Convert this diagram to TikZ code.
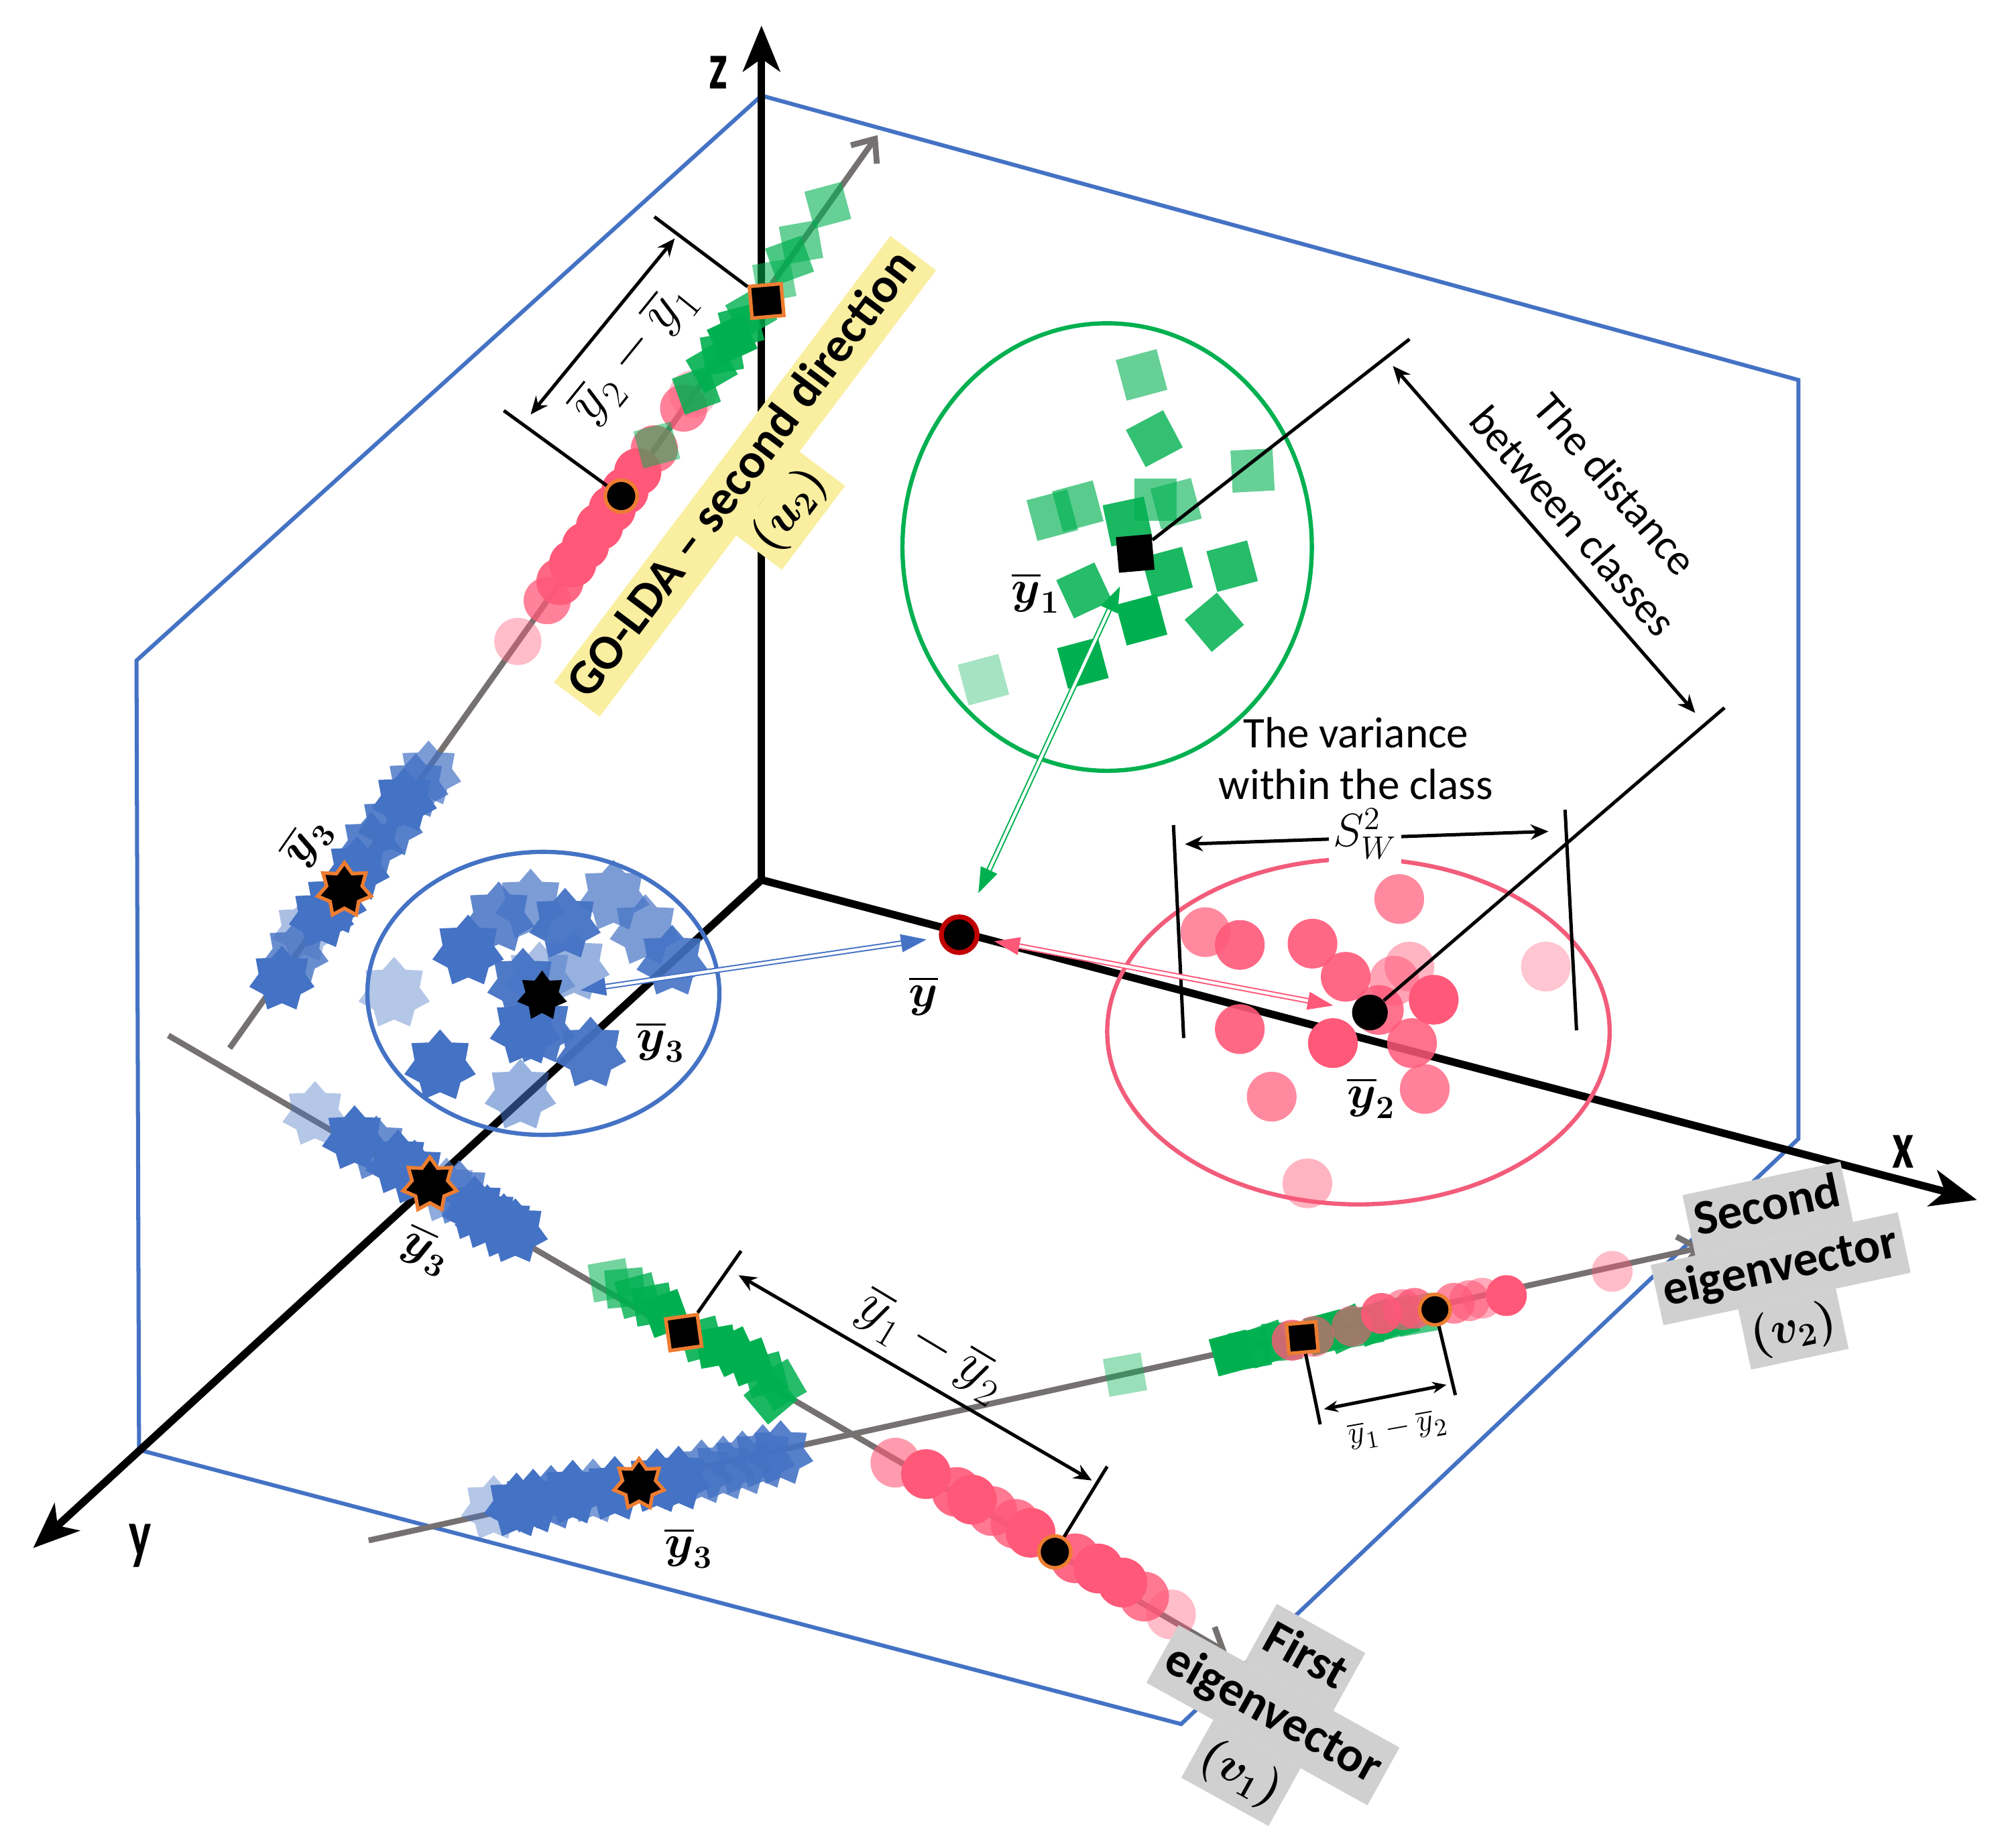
\documentclass[tikz,border=0pt]{standalone}
\usepackage{fontspec}
\setmainfont{Carlito}
\usepackage{amsmath}
\usetikzlibrary{arrows.meta,shapes.geometric}

\definecolor{planeblue}{RGB}{68,114,196}
\definecolor{axgray}{RGB}{118,113,113}
\definecolor{sqgreen}{RGB}{0,176,80}
\definecolor{ptred}{RGB}{255,88,120}
\definecolor{ringred}{RGB}{242,92,122}
\definecolor{meanorange}{RGB}{237,125,49}
\definecolor{hlyellow}{RGB}{250,238,160}
\definecolor{hlgray}{RGB}{208,208,208}
\definecolor{ybarred}{RGB}{192,0,0}

\newcommand{\ym}[1]{{\boldmath$\overline{y}_{#1}$}}
\newcommand{\yb}{{\boldmath$\overline{y}$}}
\newcommand{\hl}[2]{{\setlength{\fboxsep}{0pt}\colorbox{#1}{\strut\hspace{3pt}#2\hspace{3pt}}}}

\begin{document}
\begin{tikzpicture}[x=0.02cm,y=-0.02cm,
  plane/.style={draw=planeblue,line width=1.8pt},
  axis/.style={line width=3.4pt,-{Stealth[length=0.72cm,width=0.58cm,inset=0.2cm]}},
  dirline/.style={draw=axgray,line width=2.6pt},
  gsq/.style={rectangle,fill=sqgreen,minimum size=0.66cm,inner sep=0pt},
  lsq/.style={gsq,minimum size=0.6cm},
  rdot/.style={circle,fill=ptred,minimum size=0.78cm,inner sep=0pt},
  bstar/.style={star,star points=7,star point ratio=1.4,fill=planeblue,
                minimum size=1.15cm,inner sep=0pt},
  meanmk/.style={fill=black,draw=meanorange,line width=1.6pt,inner sep=0pt},
  tick/.style={draw=black,line width=1.5pt},
  dim/.style={draw=black,line width=1.5pt,
              {Stealth[length=0.28cm,width=0.24cm]}-{Stealth[length=0.28cm,width=0.24cm]}},
  dbl/.style={double=white,line width=0.6pt,double distance=1.3pt,
              {Triangle[length=0.4cm,width=0.28cm]}-{Triangle[length=0.4cm,width=0.28cm]}},
  txt/.style={font=\fontsize{19.5}{23}\selectfont,align=center},
  tag/.style={font=\fontsize{22}{27.5}\selectfont\bfseries\boldmath,align=center,inner sep=0pt},
  mlab/.style={font=\fontsize{22}{26}\selectfont,inner sep=1pt},
  axlab/.style={font=\fontsize{30}{30}\selectfont\bfseries}]
\useasboundingbox (0,0) rectangle (1568,1449);

% plane
\coordinate (pA) at (597,75);
\coordinate (pB) at (107,518);
\coordinate (pC) at (109,1137);
\coordinate (pD) at (926,1352);
\coordinate (pE) at (1410,893);
\coordinate (pF) at (1410,298);
\draw[plane] (pA) -- (pB) -- (pC) -- (pD) -- (pE) -- (pF) -- cycle;

% axes
\coordinate (O) at (597,690);
\coordinate (ztip) at (597,20);
\coordinate (xtip) at (1550,941);
\coordinate (ytip) at (26,1214);
\draw[axis] (O) -- (ztip);
\draw[axis] (O) -- (xtip);
\draw[axis] (O) -- (ytip);
\node[axlab] (lz) at (563,57) {\scalebox{0.7}[1]{z}};
\node[axlab] (lx) at (1492,903) {\scalebox{0.7}[1]{x}};
\node[axlab] (ly) at (110,1212) {\scalebox{0.7}[1]{y}};

% projection directions
\coordinate (u2s) at (180,822);
\coordinate (u2e) at (688,106);
\coordinate (v1s) at (132,812);
\coordinate (v1e) at (962,1296);
\coordinate (v2s) at (289,1208);
\coordinate (v2e) at (1335,978);
\draw[dirline,-{Straight Barb[length=0.3cm,width=0.5cm]}] (u2s) -- (u2e);
\draw[dirline,-{Straight Barb[length=0.3cm,width=0.5cm]}] (v1s) -- (v1e);
\draw[dirline,-{Straight Barb[length=0.3cm,width=0.5cm]}] (v2s) -- (v2e);

% class outlines
\draw[draw=sqgreen,line width=1.9pt] (868,429) ellipse [x radius=3.21cm,y radius=3.51cm];
\draw[draw=planeblue,line width=1.9pt] (426,779) ellipse [x radius=2.76cm,y radius=2.22cm];
\draw[draw=ringred,line width=1.9pt] (1065,809) ellipse [x radius=3.94cm,y radius=2.71cm];

% class 1 (green)
\foreach \cx/\cy/\op/\rt [count=\i] in {895/294/0.6/15,905/344/0.8/28,982/369/0.6/3,
    825/404/0.65/15,845/397/0.65/15,906/392/0.65/0,922/395/0.6/15,884/409/0.9/12,
    915/449/0.9/15,966/444/0.85/15,850/463/0.85/25,895/486/1/15,952/488/0.85/40,
    849/520/1/15,771/533/0.35/15}
  \node[gsq,fill opacity=\op,rotate=\rt] (gc\i) at (\cx,\cy) {};
% class 2 (red)
\foreach \cx/\cy/\op [count=\i] in {1097/705/0.7,945/731/0.7,972/741/0.9,1029/740/0.9,
    1055/766/0.9,1105/758/0.45,1093/769/0.55,1212/758/0.35,1124/784/1,1081/792/0.85,
    972/807/0.9,1045/818/1,1107/818/0.85,997/860/0.7,1117/854/0.75,1025/928/0.45}
  \node[rdot,fill opacity=\op] (rc\i) at (\cx,\cy) {};
% class 3 (blue)
\foreach \cx/\cy/\op [count=\i] in {367/746/1,391/720/0.85,416/710/0.7,443/725/0.95,
    481/703/0.7,506/730/0.7,527/754/0.9,309/779/0.4,423/767/0.45,450/758/0.55,
    410/772/0.95,423/807/0.95,412/808/1,463/826/0.95,345/836/1,408/859/0.55}
  \node[bstar,fill opacity=\op] (bc\i) at (\cx,\cy) {};

% projections on u2
\foreach \cx/\cy/\op [count=\i] in {336/607/0.7,326/617/0.8,317/628/1,306/647/0.9,
    291/663/0.9,280/682/1,262/708/1,252/719/1,239/730/0.45,232/748/0.8,221/768/1}
  \node[bstar,fill opacity=\op,minimum size=1.05cm] (su\i) at (\cx,\cy) {};
\foreach \cx/\cy/\op [count=\i] in {406/503/0.4,429/471/0.75,439/456/0.9,449/442/1,
    459/428/1,470/413/1,480/399/1,490/385/1,500/370/1,513/352/0.8,536/320/0.75,543/309/0.35}
  \node[rdot,fill opacity=\op,minimum size=0.74cm] (ru\i) at (\cx,\cy) {};
\foreach \cx/\cy/\op/\rt [count=\i] in {515/349/0.5/15,546/306/0.85/20,558/288/0.9/30,
    566/277/0.9/10,574/266/1/25,581/256/0.9/15,589/245/0.8/30,607/220/0.55/10,
    619/204/0.7/20,628/190/0.6/10,649/161/0.6/15}
  \node[lsq,fill opacity=\op,rotate=\rt] (gu\i) at (\cx,\cy) {};

% projections on v1
\foreach \cx/\cy/\op [count=\i] in {247/874/0.4,278/893/1,295/901/0.8,312/912/1,
    325/920/1,350/934/0.6,360/936/0.8,372/948/1,382/955/1,395/962/1,404/966/1}
  \node[bstar,fill opacity=\op,minimum size=1.05cm] (sv\i) at (\cx,\cy) {};
\foreach \cx/\cy/\op/\rt [count=\i] in {478/1004/0.55/10,490/1010/0.7/5,500/1016/0.8/15,
    512/1023/0.9/10,522/1030/1/20,550/1050/0.9/15,562/1056/1/10,575/1060/1/25,
    588/1068/1/20,600/1078/0.9/15,612/1086/0.85/30,604/1096/0.9/40}
  \node[lsq,fill opacity=\op,rotate=\rt] (gv\i) at (\cx,\cy) {};
\foreach \cx/\cy/\op [count=\i] in {702/1147/0.6,726/1156/1,750/1170/0.9,762/1176/1,
    778/1185/0.8,796/1195/0.8,808/1202/1,843/1222/0.9,861/1230/1,880/1241/1,
    897/1252/0.8,918/1266/0.4}
  \node[rdot,fill opacity=\op] (rv\i) at (\cx,\cy) {};

% projections on v2
\foreach \cx/\cy/\op [count=\i] in {387/1183/0.4,405/1181/1,418/1178/1,432/1175/0.9,
    449/1171/1,465/1170/0.7,482/1168/1,515/1162/1,532/1160/1,550/1155/0.8,
    567/1152/0.8,582/1148/0.8,598/1143/0.85,612/1140/0.9}
  \node[bstar,fill opacity=\op,minimum size=1.05cm] (sw\i) at (\cx,\cy) {};
\foreach \cx/\cy/\op/\rt [count=\i] in {882/1078/0.4/10,966/1061/1/15,980/1058/0.9/10,
    993/1054/0.9/20,1005/1052/0.8/5,1040/1045/1/15,1055/1042/0.9/25,1068/1040/0.8/10,
    1079/1037/0.9/20,1095/1033/0.8/15,1110/1031/0.7/10}
  \node[lsq,fill opacity=\op,rotate=\rt] (gw\i) at (\cx,\cy) {};
\foreach \cx/\cy/\op [count=\i] in {1013/1051/0.8,1030/1048/0.6,1060/1040/0.6,
    1083/1030/0.9,1100/1027/0.6,1109/1026/0.8,1140/1022/0.7,1152/1020/0.6,
    1162/1018/0.5,1181/1016/1,1264/997/0.4}
  \node[rdot,fill opacity=\op,minimum size=0.64cm] (rw\i) at (\cx,\cy) {};

% class means
\node[rectangle,fill=black,minimum size=0.56cm,inner sep=0pt,rotate=5] (c1) at (890,434) {};
\node[circle,fill=black,minimum size=0.56cm,inner sep=0pt] (c2) at (1074,794) {};
\node[star,star points=7,star point ratio=1.5,fill=black,minimum size=0.8cm,inner sep=0pt] (c3) at (425,781) {};
\node[circle,fill=black,draw=ybarred,line width=2.2pt,minimum size=0.56cm,inner sep=0pt] (ybar) at (752,733) {};

% projected means
\node[rectangle,meanmk,minimum size=0.5cm,rotate=5] (mu1) at (601,236) {};
\node[circle,meanmk,minimum size=0.5cm] (mu2) at (487,389) {};
\node[star,star points=7,star point ratio=1.5,meanmk,minimum size=0.86cm] (mu3) at (270,698) {};
\node[rectangle,meanmk,minimum size=0.5cm,rotate=8] (mv1) at (536,1045) {};
\node[circle,meanmk,minimum size=0.5cm] (mv2) at (827,1217) {};
\node[star,star points=7,star point ratio=1.5,meanmk,minimum size=0.86cm] (mv3) at (337,929) {};
\node[rectangle,meanmk,minimum size=0.46cm,rotate=5] (mw1) at (1021,1049) {};
\node[circle,meanmk,minimum size=0.48cm] (mw2) at (1125,1027) {};
\node[star,star points=7,star point ratio=1.5,meanmk,minimum size=0.8cm] (mw3) at (501,1164) {};

% mean labels
\node[mlab] (ly1) at (812,465) {\ym{1}};
\node[mlab] (ly2) at (1075,861) {\ym{2}};
\node[mlab] (ly3) at (518,817) {\ym{3}};
\node[mlab] (lyb) at (724,781) {\yb};
\node[mlab,rotate=55] (lu3) at (241,660) {\ym{3}};
\node[mlab,rotate=-25] (lv3) at (334,981) {\ym{3}};
\node[mlab] (lw3) at (540,1214) {\ym{3}};

% distance on u2
\coordinate (tu1) at (513,170);
\coordinate (tu2) at (395,322);
\coordinate (au1) at (529,187);
\coordinate (au2) at (416,325);
\draw[tick] (mu1) -- (tu1);
\draw[tick] (mu2) -- (tu2);
\draw[dim] (au2) -- (au1);
\node[font=\fontsize{23}{26}\selectfont,rotate=51] (ldu) at (497,277) {$\overline{y}_2-\overline{y}_1$};

% distance on v1
\coordinate (tv1) at (581,981);
\coordinate (tv2) at (868,1150);
\coordinate (av1) at (579,1000);
\coordinate (av2) at (856,1161);
\draw[tick] (mv1) -- (tv1);
\draw[tick] (mv2) -- (tv2);
\draw[dim] (av1) -- (av2);
\node[font=\fontsize{23}{26}\selectfont,rotate=-31] (ldv) at (730,1056) {$\overline{y}_1-\overline{y}_2$};

% distance on v2
\coordinate (tw1) at (1035,1117);
\coordinate (tw2) at (1141,1094);
\coordinate (aw1) at (1038,1105);
\coordinate (aw2) at (1134,1086);
\draw[tick] (mw1) -- (tw1);
\draw[tick] (mw2) -- (tw2);
\draw[dim,{Stealth[length=0.22cm,width=0.18cm]}-{Stealth[length=0.22cm,width=0.18cm]}] (aw1) -- (aw2);
\node[font=\fontsize{15.5}{18}\selectfont,rotate=10] (ldw) at (1096,1121) {$\overline{y}_1-\overline{y}_2$};

% distance between classes
\coordinate (td1) at (1105,266);
\coordinate (td2) at (1352,555);
\coordinate (ad1) at (1092,287);
\coordinate (ad2) at (1329,559);
\draw[tick] (c1) -- (td1);
\draw[tick] (c2) -- (td2);
\draw[dim] (ad1) -- (ad2);
\node[txt,rotate=-49,font=\fontsize{19.5}{25}\selectfont] (ldist) at (1250,394) {The distance\\between classes};

% variance within the class
\coordinate (sw1a) at (920,647);
\coordinate (sw1b) at (928,814);
\coordinate (sw2a) at (1227,635);
\coordinate (sw2b) at (1236,808);
\coordinate (as1) at (929,662);
\coordinate (as2) at (1214,652);
\draw[tick] (sw1a) -- (sw1b);
\draw[tick] (sw2a) -- (sw2b);
\draw[dim] (as1) -- (as2);
\node[fill=white,inner sep=2pt,font=\fontsize{22}{26}\selectfont] (lsw) at (1070,654) {$S_W^2$};
\node[txt] (lvar) at (1063,595) {The variance\\within the class};

% links to the global mean
\draw[dbl,draw=sqgreen,shorten <=0.24cm,shorten >=0.4cm] (c1) -- (ybar);
\draw[dbl,draw=planeblue,shorten <=0.2cm,shorten >=0.32cm] (ybar) -- (c3);
\draw[dbl,draw=ptred,shorten <=0.24cm,shorten >=0.3cm] (ybar) -- (c2);

% direction tags
\node[tag,rotate=53,font=\fontsize{22}{25.5}\selectfont\bfseries\boldmath] (golda) at (602,387)
  {\hl{hlyellow}{GO-LDA – second direction}\\\hl{hlyellow}{$(u_2)$}};
\node[tag,rotate=-29,font=\fontsize{22}{29.5}\selectfont\bfseries\boldmath] (first) at (998,1345)
  {\hl{hlgray}{First}\\\hl{hlgray}{eigenvector}\\\hl{hlgray}{$(v_1)$}};
\node[tag,rotate=12] (second) at (1396,995)
  {\hl{hlgray}{Second}\\\hl{hlgray}{eigenvector}\\\hl{hlgray}{$(v_2)$}};
\end{tikzpicture}
\end{document}
